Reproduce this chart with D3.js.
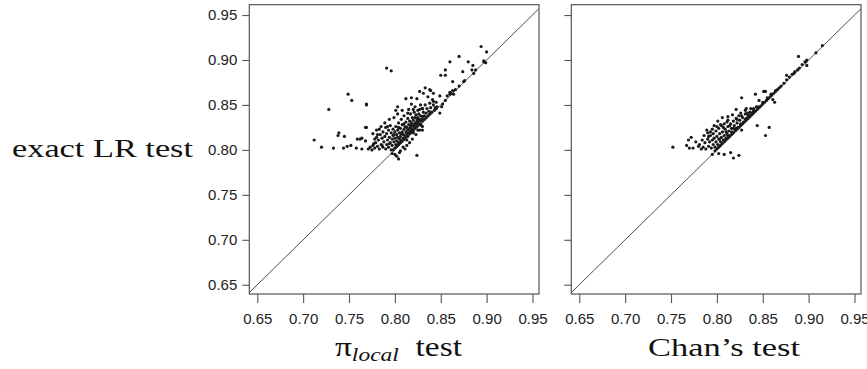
<!DOCTYPE html>
<html>
<head>
<meta charset="utf-8">
<script src="https://cdn.jsdelivr.net/npm/d3@7"></script>
<style>
  body { margin: 0; background: #fff; }
  svg { display: block; }
  .tick text { font-family: "Liberation Sans", Arial, sans-serif; font-size: 15px; fill: #222; }
  .title { font-family: "Liberation Serif", "Times New Roman", serif; fill: #111; }
</style>
</head>
<body>
<svg id="chart" width="867" height="369"></svg>
<script>
// tick values shared by both panels
const xTicks = [0.65, 0.70, 0.75, 0.80, 0.85, 0.90, 0.95];
const yTicks = [0.65, 0.70, 0.75, 0.80, 0.85, 0.90, 0.95];

// left panel: pi_local test (x) vs exact LR test (y)
const piLocalPoints = [
  [0.894,0.915],[0.900,0.909],[0.897,0.899],[0.899,0.897],[0.870,0.904],[0.860,0.898],[0.880,0.898],[0.885,0.894],
  [0.855,0.889],[0.855,0.883],[0.850,0.883],[0.874,0.887],[0.884,0.889],[0.886,0.885],[0.863,0.876],[0.875,0.876],
  [0.866,0.867],[0.860,0.864],[0.860,0.862],[0.838,0.867],[0.842,0.863],[0.831,0.863],[0.842,0.854],[0.830,0.846],
  [0.845,0.846],[0.849,0.841],[0.851,0.848],[0.791,0.891],[0.796,0.888],[0.749,0.862],[0.753,0.855],[0.728,0.845],
  [0.769,0.851],[0.712,0.811],[0.720,0.803],[0.733,0.802],[0.739,0.819],[0.738,0.816],[0.745,0.815],[0.744,0.802],
  [0.748,0.804],[0.752,0.805],[0.758,0.802],[0.759,0.812],[0.762,0.812],[0.764,0.801],[0.768,0.825],[0.768,0.810],
  [0.824,0.794],[0.802,0.793],[0.804,0.790],[0.800,0.795],[0.849,0.860],[0.841,0.856],[0.836,0.859],[0.833,0.869],
  [0.839,0.866],[0.824,0.857],[0.818,0.858],[0.812,0.857],[0.827,0.865],[0.845,0.853],[0.803,0.848],[0.801,0.844],
  [0.808,0.844],[0.814,0.841],[0.818,0.851],[0.820,0.845],[0.825,0.844],[0.769,0.850],[0.764,0.813],[0.769,0.825],
  [0.855,0.855],[0.852,0.851],[0.846,0.848],[0.843,0.844],[0.840,0.842],[0.838,0.840],[0.836,0.838],[0.834,0.836],
  [0.832,0.834],[0.830,0.832],[0.828,0.829],[0.826,0.828],[0.824,0.826],[0.822,0.824],[0.820,0.821],[0.818,0.820],
  [0.816,0.818],[0.814,0.815],[0.812,0.814],[0.810,0.812],[0.808,0.810],[0.806,0.808],[0.804,0.806],[0.802,0.804],
  [0.800,0.802],[0.798,0.800],[0.857,0.860],[0.863,0.866],[0.870,0.871],[0.876,0.877],[0.888,0.889],[0.897,0.898],
  [0.861,0.863],[0.864,0.862],[0.825,0.822],[0.830,0.822],[0.813,0.805],
  [0.771,0.801],[0.773,0.803],[0.775,0.800],[0.776,0.805],[0.778,0.802],[0.779,0.808],[0.780,0.814],[0.781,0.804],
  [0.782,0.811],[0.783,0.801],[0.783,0.823],[0.784,0.817],[0.785,0.806],[0.786,0.813],[0.787,0.803],[0.787,0.820],
  [0.788,0.809],[0.789,0.815],[0.790,0.801],[0.790,0.825],[0.791,0.806],[0.791,0.818],[0.792,0.811],[0.793,0.822],
  [0.793,0.803],[0.794,0.814],[0.795,0.808],[0.795,0.827],[0.796,0.800],[0.796,0.819],[0.797,0.812],[0.797,0.805],
  [0.798,0.823],[0.798,0.816],[0.799,0.809],[0.800,0.820],[0.800,0.813],[0.801,0.806],[0.801,0.826],[0.802,0.817],
  [0.802,0.810],[0.803,0.822],[0.803,0.814],[0.804,0.808],[0.804,0.830],[0.805,0.819],[0.805,0.812],[0.806,0.824],
  [0.806,0.815],[0.807,0.810],[0.807,0.834],[0.808,0.820],[0.808,0.828],[0.809,0.813],[0.809,0.817],[0.810,0.823],
  [0.810,0.838],[0.811,0.826],[0.811,0.816],[0.812,0.820],[0.812,0.831],[0.813,0.818],[0.813,0.825],[0.814,0.822],
  [0.814,0.835],[0.815,0.819],[0.815,0.828],[0.816,0.824],[0.816,0.832],[0.817,0.821],[0.817,0.840],[0.818,0.826],
  [0.818,0.830],[0.819,0.823],[0.819,0.836],[0.820,0.828],[0.820,0.833],[0.821,0.826],[0.821,0.842],[0.822,0.830],
  [0.822,0.836],[0.823,0.828],[0.823,0.839],[0.824,0.832],[0.825,0.830],[0.825,0.836],[0.826,0.834],[0.826,0.840],
  [0.827,0.832],[0.828,0.838],[0.829,0.834],[0.830,0.837],[0.831,0.842],[0.832,0.838],[0.834,0.841],[0.835,0.846],
  [0.837,0.843],[0.839,0.847],[0.842,0.850],[0.844,0.847],[0.776,0.818],[0.780,0.822],[0.778,0.812],[0.785,0.826],
  [0.789,0.830],[0.794,0.834],[0.799,0.836],[0.803,0.840],[0.815,0.845],[0.822,0.848],[0.828,0.850],[0.830,0.846],
  [0.833,0.850],[0.838,0.852],[0.809,0.803],[0.816,0.808],[0.819,0.812],[0.823,0.817],[0.827,0.822],[0.830,0.826],
  [0.806,0.799],[0.811,0.801],[0.797,0.796],[0.805,0.797],
  [0.777,0.807],[0.781,0.817],[0.786,0.805],[0.792,0.826],[0.794,0.807],[0.799,0.817],[0.804,0.825],[0.807,0.818],
  [0.810,0.829],[0.813,0.811],[0.817,0.827],[0.820,0.819],[0.824,0.835],[0.827,0.845],[0.829,0.827]
];

// right panel: Chan's test (x) vs exact LR test (y)
const chanPoints = [
  [0.752,0.803],[0.767,0.805],[0.770,0.802],[0.774,0.802],[0.772,0.814],[0.769,0.811],[0.783,0.801],[0.781,0.806],
  [0.789,0.822],[0.793,0.820],[0.797,0.827],[0.801,0.832],[0.806,0.836],[0.812,0.837],[0.817,0.839],[0.821,0.845],
  [0.827,0.858],[0.832,0.846],[0.842,0.862],[0.853,0.865],[0.846,0.855],[0.853,0.816],[0.857,0.825],[0.844,0.827],
  [0.863,0.853],[0.889,0.904],[0.908,0.908],[0.915,0.916],[0.897,0.898],[0.898,0.894],[0.876,0.883],[0.884,0.885],
  [0.851,0.865],[0.840,0.846],[0.861,0.856],[0.795,0.795],[0.802,0.796],[0.808,0.795],[0.815,0.797],[0.818,0.791],
  [0.824,0.794],[0.827,0.822],[0.804,0.828],[0.811,0.831],[0.826,0.841],[0.831,0.844],
  [0.785,0.803],[0.787,0.808],[0.788,0.801],[0.790,0.812],[0.791,0.804],[0.792,0.809],[0.793,0.816],[0.794,0.802],
  [0.795,0.811],[0.796,0.806],[0.796,0.818],[0.797,0.813],[0.798,0.803],[0.799,0.809],[0.799,0.821],[0.800,0.815],
  [0.801,0.806],[0.802,0.812],[0.802,0.824],[0.803,0.818],[0.804,0.809],[0.805,0.814],[0.805,0.827],[0.806,0.820],
  [0.807,0.811],[0.808,0.816],[0.808,0.829],[0.809,0.823],[0.810,0.813],[0.811,0.818],[0.812,0.826],[0.812,0.833],
  [0.813,0.821],[0.814,0.816],[0.815,0.829],[0.816,0.824],[0.817,0.819],[0.818,0.832],[0.819,0.827],[0.820,0.822],
  [0.821,0.835],[0.822,0.830],[0.823,0.825],[0.824,0.838],[0.825,0.833],[0.826,0.828],[0.828,0.836],[0.829,0.831],
  [0.831,0.840],[0.832,0.835],[0.834,0.838],[0.836,0.842],[0.838,0.841],[0.840,0.845],[0.843,0.848],[0.780,0.804],
  [0.777,0.809],[0.786,0.816],[0.790,0.819],[0.784,0.811],
  [0.798,0.799],[0.800,0.801],[0.802,0.803],[0.804,0.805],[0.806,0.807],[0.808,0.809],[0.810,0.811],[0.812,0.813],
  [0.814,0.815],[0.816,0.817],[0.818,0.819],[0.820,0.821],[0.822,0.823],[0.824,0.825],[0.826,0.827],[0.828,0.829],
  [0.830,0.831],[0.832,0.833],[0.834,0.835],[0.836,0.837],[0.838,0.839],[0.840,0.841],[0.842,0.843],[0.844,0.845],
  [0.846,0.847],[0.848,0.849],[0.850,0.851],[0.852,0.853],[0.854,0.855],[0.856,0.857],[0.858,0.859],[0.860,0.861],
  [0.862,0.863],[0.864,0.865],[0.866,0.867],[0.868,0.869],[0.870,0.871],[0.873,0.874],[0.876,0.878],[0.879,0.881],
  [0.882,0.884],[0.885,0.887],[0.888,0.889],[0.890,0.891],[0.893,0.895],[0.896,0.898],[0.898,0.900],[0.808,0.811],
  [0.812,0.816],[0.816,0.820],[0.821,0.824],[0.826,0.829],[0.831,0.834],[0.835,0.839],[0.840,0.843],[0.845,0.848],
  [0.850,0.853],[0.855,0.858],[0.859,0.862],[0.864,0.866],
  [0.791,0.815],[0.795,0.823],[0.800,0.826],[0.803,0.812],[0.807,0.825],[0.810,0.820],[0.814,0.827],[0.818,0.824],
  [0.822,0.834],[0.827,0.838],[0.833,0.841],[0.837,0.846]
];

const svg = d3.select('#chart');
const plotTop = 4.7, plotBottom = 294;
const domain = [0.6413, 0.9571];

const yScale = d3.scaleLinear().domain([0.6397, 0.9615]).range([plotBottom, plotTop]);

const panels = [
  { left: 249.3, right: 539, points: piLocalPoints, yLabels: true },
  { left: 571.3, right: 861, points: chanPoints, yLabels: false }
];

panels.forEach((p, i) => {
  const xScale = d3.scaleLinear().domain(domain).range([p.left, p.right]);
  const g = svg.append('g');

  // clip so the diagonal stays inside the box
  svg.append('defs').append('clipPath')
    .attr('id', 'clip' + i)
    .append('rect')
    .attr('x', p.left).attr('y', plotTop)
    .attr('width', p.right - p.left).attr('height', plotBottom - plotTop);

  const xAxis = d3.axisBottom(xScale)
    .tickValues(xTicks)
    .tickSize(9)
    .tickPadding(10)
    .tickFormat(d3.format('.2f'));
  g.append('g')
    .attr('transform', `translate(0,${plotBottom})`)
    .call(xAxis)
    .call(a => a.select('.domain').remove());

  const yAxis = d3.axisLeft(yScale)
    .tickValues(yTicks)
    .tickSize(7)
    .tickPadding(5)
    .tickFormat(p.yLabels ? d3.format('.2f') : () => '');
  g.append('g')
    .attr('transform', `translate(${p.left},0)`)
    .call(yAxis)
    .call(a => a.select('.domain').remove());

  g.selectAll('.tick line').attr('stroke', '#555').attr('stroke-width', 1.1);

  // y = x reference line
  g.append('line')
    .attr('clip-path', `url(#clip${i})`)
    .attr('x1', xScale(0.6)).attr('y1', yScale(0.6))
    .attr('x2', xScale(1.0)).attr('y2', yScale(1.0))
    .attr('stroke', '#222')
    .attr('stroke-width', 0.8);

  g.selectAll('circle.pt')
    .data(p.points)
    .enter()
    .append('circle')
    .attr('class', 'pt')
    .attr('cx', d => xScale(d[0]))
    .attr('cy', d => yScale(d[1]))
    .attr('r', 1.6)
    .attr('fill', '#1a1a1a');

  g.append('rect')
    .attr('x', p.left).attr('y', plotTop)
    .attr('width', p.right - p.left).attr('height', plotBottom - plotTop)
    .attr('fill', 'none')
    .attr('stroke', '#555')
    .attr('stroke-width', 1.2);
});

// axis titles
svg.append('text')
  .attr('class', 'title')
  .attr('x', 12).attr('y', 157)
  .attr('font-size', 26)
  .attr('textLength', 181)
  .attr('lengthAdjust', 'spacingAndGlyphs')
  .text('exact LR test');

const piTitle = svg.append('text')
  .attr('class', 'title')
  .attr('x', 335).attr('y', 356)
  .attr('font-size', 27)
  .attr('textLength', 127)
  .attr('lengthAdjust', 'spacingAndGlyphs');
piTitle.append('tspan').text('π');
piTitle.append('tspan').attr('font-style', 'italic').attr('font-size', 19).attr('dy', 5).text('local');
piTitle.append('tspan').attr('dy', -5).text('\u2002test');

svg.append('text')
  .attr('class', 'title')
  .attr('x', 648).attr('y', 356)
  .attr('font-size', 26)
  .attr('textLength', 152)
  .attr('lengthAdjust', 'spacingAndGlyphs')
  .text('Chan\u2019s test');
</script>
</body>
</html>
